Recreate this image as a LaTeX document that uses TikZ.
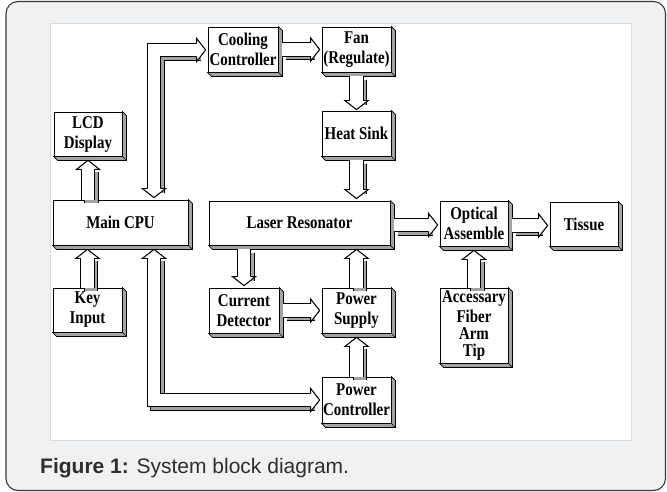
\documentclass[tikz,border=0pt]{standalone}
\usepackage{fontspec}
\newfontfamily\dfont[FakeStretch=0.83]{Liberation Serif}
\newfontfamily\capfont{Liberation Sans}
\usetikzlibrary{calc}
\definecolor{bggray}{HTML}{EFF1F3}
\definecolor{framegray}{HTML}{3A3A3A}
\definecolor{panelline}{HTML}{D9DCDF}
\definecolor{shgray}{HTML}{A3A3A3}
\definecolor{capcol}{HTML}{2E2E2E}
\tikzset{
  blk/.style={draw=black, line width=0.9pt, fill=white, inner sep=0pt, align=center,
    font=\dfont\bfseries\fontsize{18}{20}\selectfont},
  face/.style={fill=shgray, draw=black, line width=0.8pt},
  shaftS/.style={line width=0.9pt, draw=black, double=shgray, double distance=12.5pt},
  shaftF/.style={line width=0.9pt, draw=black, double=white, double distance=12.5pt},
  headline/.style={draw=black, line width=0.9pt, line join=miter},
}
\newcommand\extr[1]{%
  \filldraw[face] (#1.north east) -- ([shift={(4,4)}]#1.north east) -- ([shift={(4,4)}]#1.south east)
    -- ([shift={(4,4)}]#1.south west) -- (#1.south west) -- (#1.south east) -- cycle;
  \draw[black, line width=0.6pt] (#1.south east) -- ([shift={(4,4)}]#1.south east);}
\newcommand\ahead[3]{%
  \filldraw[headline,#1,shift={(#2)},rotate=#3] (-9,6.7) -- (-9,11.5) -- (0,0) -- (-9,-11.5) -- (-9,-6.7);}
\newcommand\barrow[3]{%
  \draw[shaftS, shorten >=8.5pt] ([xshift=3.5pt,yshift=-3.5pt]#1) -- ([xshift=3.5pt,yshift=-3.5pt]#2);
  \ahead{fill=shgray,xshift=3.5pt,yshift=-3.5pt}{#2}{#3}
  \draw[shaftF, shorten >=8.5pt] (#1) -- (#2);
  \ahead{fill=white}{#2}{#3}}
\begin{document}
\begin{tikzpicture}[x=1pt,y=-1pt]
\useasboundingbox (0,0) rectangle (667,492);
\fill[white] (0,0) rectangle (667,492);
\draw[fill=bggray, draw=framegray, line width=1.1pt, rounded corners=12pt] (6,1.5) rectangle (665.5,490.5);
\draw[fill=white, draw=panelline, line width=0.8pt] (50,23) rectangle (631,440);

% boxes
\node[blk, minimum width=70pt, minimum height=45pt] (cool) at (243,49.5) {Cooling\\Controller};
\node[blk, minimum width=69pt, minimum height=45pt] (fan) at (356.5,49.5) {Fan\\(Regulate)};
\node[blk, minimum width=68pt, minimum height=44pt] (lcd) at (88,134) {LCD\\Display};
\node[blk, minimum width=69pt, minimum height=45pt] (heat) at (356.5,133.5) {Heat Sink};
\node[blk, minimum width=135pt, minimum height=45pt] (cpu) at (120.5,222.5) {Main CPU};
\node[blk, minimum width=181pt, minimum height=44pt] (laser) at (299.5,223) {Laser Resonator};
\node[blk, minimum width=68pt, minimum height=45pt] (optical) at (474,223.5) {Optical\\Assemble};
\node[blk, minimum width=68pt, minimum height=44pt] (tissue) at (584,224) {Tissue};
\node[blk, minimum width=69pt, minimum height=44pt] (key) at (87.5,310) {Key\\Input};
\node[blk, minimum width=70pt, minimum height=45pt] (current) at (244,310.5) {Current\\Detector};
\node[blk, minimum width=69pt, minimum height=45pt] (psupply) at (356.5,310.5) {Power\\Supply};
\node[blk, minimum width=68pt, minimum height=75pt] (access) at (474,325.5) {Accessary\\Fiber\\[-3pt]Arm\\[-3pt]Tip};
\node[blk, minimum width=69pt, minimum height=46pt] (pctrl) at (356.5,400) {Power\\Controller};
\foreach \n in {cool,fan,lcd,heat,cpu,laser,optical,tissue,key,current,psupply,access,pctrl} {\extr{\n}}

% straight arrows
\coordinate (s1) at ([xshift=4pt]cool.east); \coordinate (a1) at ([xshift=-2pt]fan.west);
\barrow{s1}{a1}{0}
\coordinate (s2) at ([yshift=-4pt]fan.south); \coordinate (a2) at ([yshift=1pt]heat.north);
\barrow{s2}{a2}{-90}
\coordinate (s3) at ([yshift=-4pt]heat.south); \coordinate (a3) at ([yshift=2pt]laser.north -| heat.south);
\barrow{s3}{a3}{-90}
\coordinate (s4) at (cpu.north -| lcd.south); \coordinate (a4) at ([yshift=-4pt]lcd.south);
\barrow{s4}{a4}{90}
\coordinate (s5) at (key.north); \coordinate (a5) at ([yshift=-4pt]cpu.south -| key.north);
\barrow{s5}{a5}{90}
\coordinate (s6) at ([xshift=4pt,yshift=-2pt]laser.east); \coordinate (a6) at ([xshift=-2pt]optical.west |- s6);
\barrow{s6}{a6}{0}
\coordinate (s7) at ([xshift=4pt,yshift=-2pt]optical.east); \coordinate (a7) at ([xshift=-2pt]tissue.west |- s7);
\barrow{s7}{a7}{0}
\coordinate (s8) at ([yshift=-4pt]laser.south -| current.north); \coordinate (a8) at ([yshift=2pt]current.north);
\barrow{s8}{a8}{-90}
\coordinate (s9) at ([xshift=4pt]current.east); \coordinate (a9) at ([xshift=-2pt]psupply.west |- s9);
\barrow{s9}{a9}{0}
\coordinate (s10) at (psupply.north); \coordinate (a10) at ([yshift=-4pt]laser.south -| psupply.north);
\barrow{s10}{a10}{90}
\coordinate (s11) at (pctrl.north); \coordinate (a11) at ([yshift=-4pt]psupply.south);
\barrow{s11}{a11}{90}
\coordinate (s12) at (access.north); \coordinate (a12) at ([yshift=-4pt]optical.south -| access.north);
\barrow{s12}{a12}{90}

% L-shaped double-headed arrows
\coordinate (k1) at (154,50);
\coordinate (b1) at ([yshift=2pt]cpu.north -| k1);
\coordinate (e1) at ([xshift=-2pt]cool.west |- k1);
\draw[shaftS, shorten <=8.5pt, shorten >=8.5pt] ([xshift=3.5pt,yshift=-3.5pt]b1) -- ([xshift=3.5pt,yshift=-3.5pt]k1) -- ([xshift=3.5pt,yshift=-3.5pt]e1);
\ahead{fill=shgray,xshift=3.5pt,yshift=-3.5pt}{b1}{-90}
\ahead{fill=shgray,xshift=3.5pt,yshift=-3.5pt}{e1}{0}
\draw[shaftF, shorten <=8.5pt, shorten >=8.5pt] (b1) -- (k1) -- (e1);
\ahead{fill=white}{b1}{-90}
\ahead{fill=white}{e1}{0}

\coordinate (k2) at (154,400);
\coordinate (b2) at ([yshift=-4pt]cpu.south -| k2);
\coordinate (e2) at ([xshift=-2pt]pctrl.west |- k2);
\draw[shaftS, shorten <=8.5pt, shorten >=8.5pt] ([xshift=3.5pt,yshift=-3.5pt]b2) -- ([xshift=3.5pt,yshift=-3.5pt]k2) -- ([xshift=3.5pt,yshift=-3.5pt]e2);
\ahead{fill=shgray,xshift=3.5pt,yshift=-3.5pt}{b2}{90}
\ahead{fill=shgray,xshift=3.5pt,yshift=-3.5pt}{e2}{0}
\draw[shaftF, shorten <=8.5pt, shorten >=8.5pt] (b2) -- (k2) -- (e2);
\ahead{fill=white}{b2}{90}
\ahead{fill=white}{e2}{0}

% caption
\node[anchor=base west, inner sep=0pt, text=capcol, font=\capfont\fontsize{21}{25}\selectfont] (cap) at (40,473) {\textbf{Figure 1:} System block diagram.};
\end{tikzpicture}
\end{document}
